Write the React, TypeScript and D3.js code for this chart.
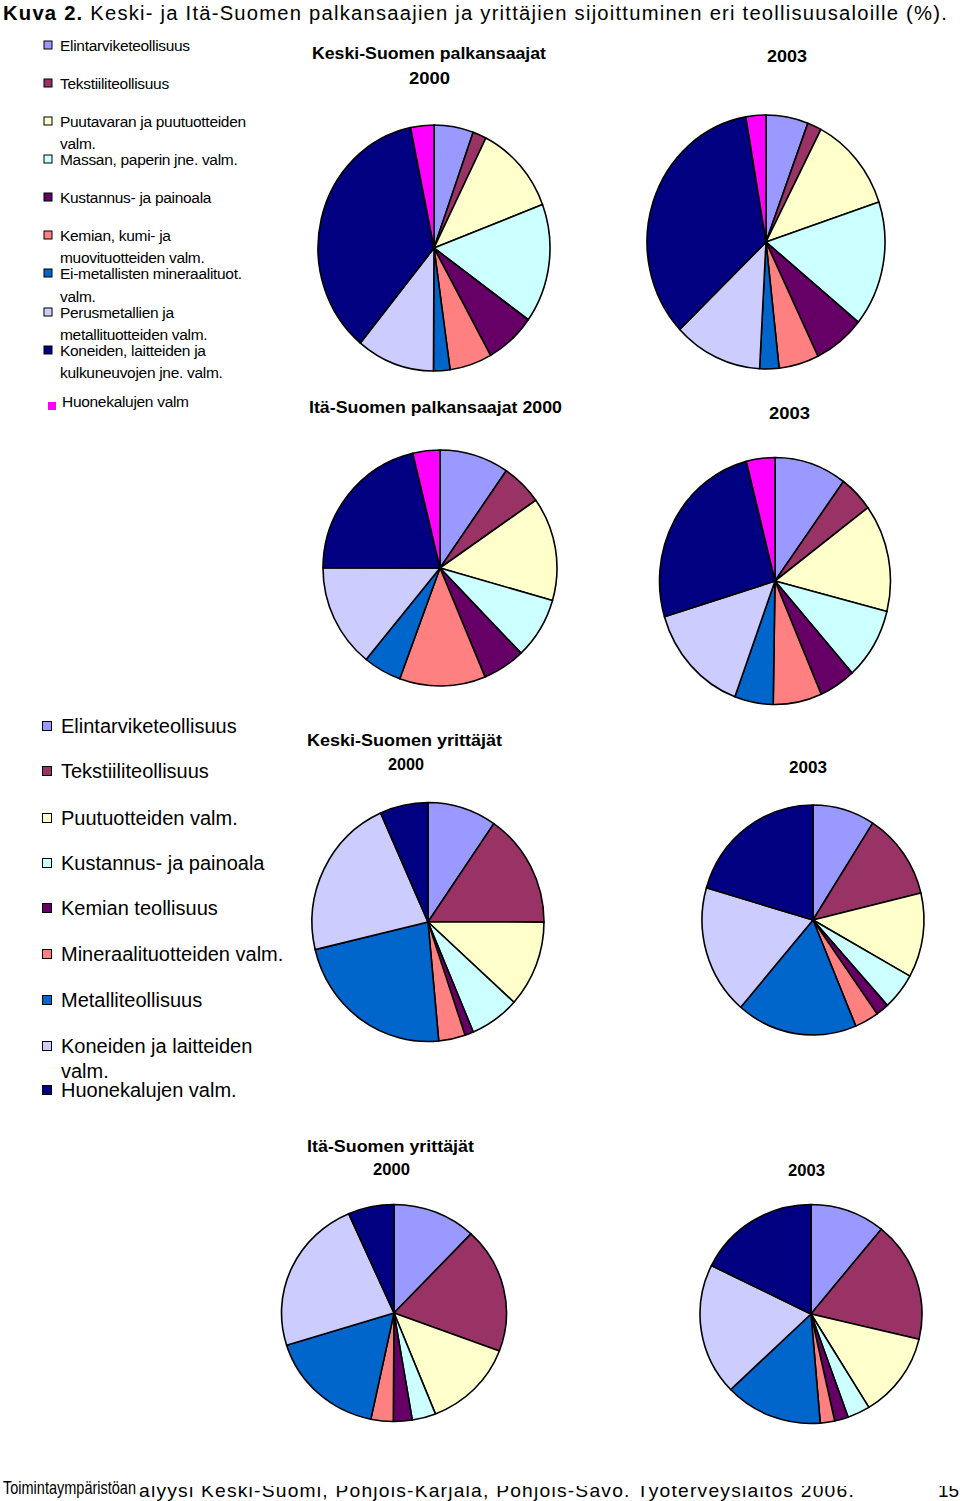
import React from "react";
import * as d3 from "d3";

const titleBold = "Kuva 2.";
const titleRest = " Keski- ja Itä-Suomen palkansaajien ja yrittäjien sijoittuminen eri teollisuusaloille (%).";

const palkLegend: string[][] = [
  ["Elintarviketeollisuus"],
  ["Tekstiiliteollisuus"],
  ["Puutavaran ja puutuotteiden", "valm."],
  ["Massan, paperin jne. valm."],
  ["Kustannus- ja painoala"],
  ["Kemian, kumi- ja", "muovituotteiden valm."],
  ["Ei-metallisten mineraalituot.", "valm."],
  ["Perusmetallien  ja", "metallituotteiden valm."],
  ["Koneiden, laitteiden ja", "kulkuneuvojen jne. valm."],
  ["Huonekalujen valm"],
];
const palkColors = ["#9999FF", "#993366", "#FFFFCC", "#CCFFFF", "#660066", "#FF8080", "#0066CC", "#CCCCFF", "#000080", "#FF00FF"];
const palkLegendY = [45, 83, 121, 159, 197, 235, 273, 312, 350, 401];
const palkLineGap = [0, 0, 22, 0, 0, 22, 23, 22, 22, 0];

const yrLegend: string[][] = [
  ["Elintarviketeollisuus"],
  ["Tekstiiliteollisuus"],
  ["Puutuotteiden valm."],
  ["Kustannus- ja painoala"],
  ["Kemian teollisuus"],
  ["Mineraalituotteiden valm."],
  ["Metalliteollisuus"],
  ["Koneiden ja laitteiden", "valm."],
  ["Huonekalujen valm."],
];
const yrColors = ["#9999FF", "#993366", "#FFFFCC", "#CCFFFF", "#660066", "#FF8080", "#0066CC", "#CCCCFF", "#000080"];
const yrLegendY = [726, 771, 818, 863, 908, 954, 1000, 1046, 1090];

// values (%), clockwise from 12 o'clock
const ksPalk2000 = [5.5, 1.9, 11.9, 15.7, 7.0, 5.9, 2.3, 10.9, 35.9, 3.25];
const ksPalk2003 = [5.7, 1.9, 12.2, 15.9, 6.9, 5.4, 2.6, 12.0, 34.2, 2.7];
const isPalk2000 = [9.6, 5.7, 14.2, 8.4, 5.9, 11.9, 5.3, 14.2, 21.25, 3.75];
const isPalk2003 = [10.1, 4.8, 14.1, 9.4, 5.1, 6.8, 5.4, 14.7, 25.7, 4.0];
const ksYr2000 = [9.6, 15.4, 11.7, 6.9, 1.2, 3.7, 22.75, 22.0, 6.7];
const ksYr2003 = [9.05, 12.2, 11.9, 5.2, 1.9, 3.5, 17.6, 18.25, 20.5];
const isYr2000 = [12.0, 18.7, 13.3, 3.4, 2.7, 3.2, 16.9, 23.2, 6.6];
const isYr2003 = [10.9, 17.8, 12.55, 3.3, 2.0, 2.1, 14.2, 19.4, 17.7];

type PieSpec = { values: number[]; colors: string[]; cx: number; cy: number; rx: number; ry: number };
const pies: PieSpec[] = [
  { values: ksPalk2000, colors: palkColors, cx: 434, cy: 248, rx: 116, ry: 123 },
  { values: ksPalk2003, colors: palkColors, cx: 766, cy: 242, rx: 119, ry: 127 },
  { values: isPalk2000, colors: palkColors, cx: 440, cy: 568, rx: 117, ry: 118 },
  { values: isPalk2003, colors: palkColors, cx: 775, cy: 581, rx: 115.5, ry: 123.5 },
  { values: ksYr2000, colors: yrColors, cx: 428, cy: 922, rx: 116, ry: 119.5 },
  { values: ksYr2003, colors: yrColors, cx: 813, cy: 920, rx: 111, ry: 115 },
  { values: isYr2000, colors: yrColors, cx: 394, cy: 1313, rx: 112.5, ry: 108.5 },
  { values: isYr2003, colors: yrColors, cx: 811, cy: 1314, rx: 111, ry: 109.5 },
];

type Head = { text: string; x: number; y: number; w: number; size: number };
const headers: Head[] = [
  { text: "Keski-Suomen palkansaajat", x: 312, y: 59, w: 234, size: 17 },
  { text: "2000", x: 409, y: 84, w: 41, size: 17 },
  { text: "2003", x: 767, y: 62, w: 40, size: 17 },
  { text: "Itä-Suomen palkansaajat 2000", x: 309, y: 413, w: 253, size: 17 },
  { text: "2003", x: 769, y: 419, w: 41, size: 17 },
  { text: "Keski-Suomen yrittäjät", x: 307, y: 746, w: 195, size: 16 },
  { text: "2000", x: 388, y: 770, w: 36, size: 16 },
  { text: "2003", x: 789, y: 773, w: 38, size: 16 },
  { text: "Itä-Suomen yrittäjät", x: 307, y: 1152, w: 167, size: 16 },
  { text: "2000", x: 373, y: 1175, w: 37, size: 16 },
  { text: "2003", x: 788, y: 1176, w: 37, size: 16 },
];

const R = 100;
const pieGen = d3.pie<number>().sort(null).value((d) => d);
const arcGen = d3.arc<d3.PieArcDatum<number>>().innerRadius(0).outerRadius(R);

const FONT = "'Liberation Sans', Arial, sans-serif";

export default function App() {
  return (
    <svg width={960} height={1501} style={{ position: "absolute", left: 0, top: 0, background: "#fff" }}>
      <defs>
        <clipPath id="footClip">
          <rect x={139} y={1486} width={821} height={20} />
        </clipPath>
      </defs>
      <rect x={0} y={0} width={960} height={1501} fill="#fff" />
      <text x={3} y={20} fontFamily={FONT} fontSize={20} letterSpacing={1.2} textLength={945} lengthAdjust="spacingAndGlyphs">
        <tspan fontWeight="bold">{titleBold}</tspan>
        {titleRest}
      </text>

      {palkLegend.map((lines, i) => {
        const cy = palkLegendY[i];
        const last = i === palkLegend.length - 1;
        const sx = last ? 48 : 44;
        const tx = last ? 62 : 60;
        return (
          <g key={"pl" + i}>
            <rect
              x={sx}
              y={cy - 4 + (last ? 5 : 0)}
              width={8}
              height={8}
              fill={palkColors[i]}
              stroke={last ? "none" : "#000"}
              strokeWidth={1}
            />
            {lines.map((l, j) => (
              <text key={j} x={tx} y={cy + 5.5 + j * palkLineGap[i]} fontFamily={FONT} fontSize={15.5} letterSpacing={-0.3}>
                {l}
              </text>
            ))}
          </g>
        );
      })}

      {yrLegend.map((lines, i) => {
        const cy = yrLegendY[i];
        return (
          <g key={"yl" + i}>
            <rect x={42.5} y={cy - 4.5} width={9} height={9} fill={yrColors[i]} stroke="#000" strokeWidth={1} />
            {lines.map((l, j) => (
              <text key={j} x={61} y={cy + 7 + j * 25} fontFamily={FONT} fontSize={20}>
                {l}
              </text>
            ))}
          </g>
        );
      })}

      {headers.map((h, i) => (
        <text key={"h" + i} x={h.x} y={h.y} fontFamily={FONT} fontWeight="bold" fontSize={h.size} textLength={h.w} lengthAdjust="spacingAndGlyphs">
          {h.text}
        </text>
      ))}

      {pies.map((p, i) => {
        const arcs = pieGen(p.values);
        return (
          <g key={"p" + i} transform={`translate(${p.cx},${p.cy}) scale(${p.rx / R},${p.ry / R})`}>
            {arcs.map((a, j) => (
              <path
                key={j}
                d={arcGen(a) || ""}
                fill={p.colors[j]}
                stroke="#000"
                strokeWidth={1.6}
                strokeLinejoin="round"
                vectorEffect="non-scaling-stroke"
              />
            ))}
          </g>
        );
      })}

      <text x={3} y={1494} fontFamily={FONT} fontSize={19} textLength={133} lengthAdjust="spacingAndGlyphs">
        Toimintaympäristöan
      </text>
      <g clipPath="url(#footClip)">
        <text x={139} y={1497} fontFamily={FONT} fontSize={19} letterSpacing={1.2} textLength={716} lengthAdjust="spacingAndGlyphs">
          alyysi Keski-Suomi, Pohjois-Karjala, Pohjois-Savo. Työterveyslaitos 2006.
        </text>
        <text x={938} y={1497} fontFamily={FONT} fontSize={19}>
          15
        </text>
      </g>
    </svg>
  );
}
